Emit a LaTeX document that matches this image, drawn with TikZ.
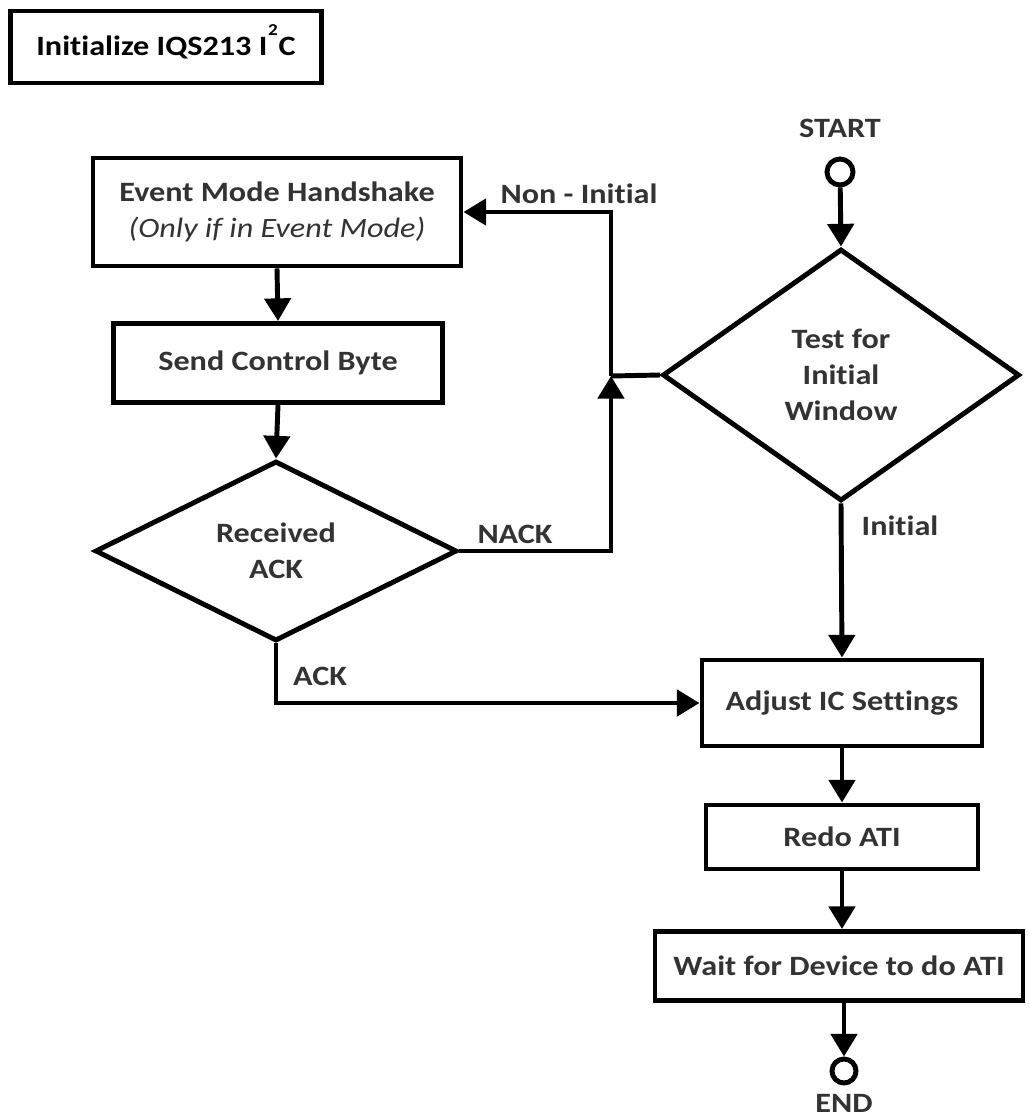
\documentclass[tikz,border=0pt]{standalone}
\usepackage{fontspec}
\setmainfont{Carlito}[Ligatures=NoCommon]
\usetikzlibrary{shapes.geometric,arrows.meta}
\definecolor{txt}{HTML}{333333}
\newcommand{\hstr}[1]{\scalebox{1.15}[1]{#1}}
\begin{document}
\begin{tikzpicture}[x=0.75pt,y=-0.75pt,
  lw/.style={line width=3.7pt},
  fnt/.style={font=\fontsize{21}{27}\selectfont\bfseries},
  box/.style={draw,lw,rectangle,inner sep=0pt,fnt,text=txt,align=center},
  dia/.style={draw,lw,diamond,inner sep=0pt,fnt,text=txt,align=center},
  lab/.style={fnt,text=txt,inner sep=0pt,anchor=base},
  arr/.style={lw,-{Triangle[length=17pt,width=19.5pt]}},
  ln/.style={lw},
  term/.style={draw,circle,lw,minimum size=26*0.75pt,inner sep=0pt}]
\useasboundingbox (0,0) rectangle (1028,1117);
\fill[white] (0,0) rectangle (1028,1117);

% title
\node[box,text=black,minimum width=311*0.75pt,minimum height=72*0.75pt] (title) at (166,47)
      {\hstr{Initialize IQS213 I\kern0.5pt\smash{\raisebox{15pt}{\fontsize{12.5}{12}\selectfont 2}}\kern0.5pt C}};

% nodes
\node[lab] (startl) at (840,137) {\hstr{START}};
\node[term] (start) at (840,172) {};
\node[dia,minimum width=357*0.75pt,minimum height=252*0.75pt] (test) at (841,375)
      {\hstr{Test for}\\\hstr{Initial}\\\hstr{Window}};
\node[box,minimum width=368*0.75pt,minimum height=108*0.75pt] (ev) at (277,212)
      {\hstr{Event Mode Handshake}\\{\mdseries\itshape\hstr{(Only if in Event Mode)}}};
\node[box,minimum width=329*0.75pt,minimum height=79*0.75pt] (send) at (278,363)
      {\hstr{Send Control Byte}};
\node[dia,minimum width=362*0.75pt,minimum height=180*0.75pt] (rack) at (276,551)
      {\hstr{Received}\\\hstr{ACK}};
\node[box,minimum width=280*0.75pt,minimum height=86*0.75pt] (adj) at (842,703)
      {\hstr{Adjust IC Settings}};
\node[box,minimum width=272*0.75pt,minimum height=64*0.75pt] (redo) at (842,837)
      {\hstr{Redo ATI}};
\node[box,minimum width=368*0.75pt,minimum height=69*0.75pt] (wait) at (839,966)
      {\hstr{Wait for Device to do ATI}};
\node[term,minimum size=24*0.75pt] (end) at (844,1071) {};
\node[lab] (endl) at (844,1112) {\hstr{END}};

\coordinate (jn) at (611,376);

% connectors
\draw[arr] (start) -- (test.north);
\draw[ln] (test.west) -- (jn);
\draw[arr] (jn) |- (ev.east);
\draw[arr] (rack.east) -| (jn);
\draw[arr] (ev.south) -- (send.north);
\draw[arr] (send.south) -- (rack.north);
\draw[arr] (rack.south) |- (adj.west);
\draw[arr] (test.south) -- (adj.north);
\draw[arr] (adj.south) -- (redo.north);
\draw[arr] (redo.south) -- (redo.south |- wait.north);
\draw[arr] (end |- wait.south) -- (end.north);

% labels
\node[lab] (lnon) at (579,203) {\hstr{Non - Initial}};
\node[lab] (lnack) at (515,543) {\hstr{NACK}};
\node[lab] (lack) at (320,685) {\hstr{ACK}};
\node[lab] (linit) at (900,535) {\hstr{Initial}};
\end{tikzpicture}
\end{document}
